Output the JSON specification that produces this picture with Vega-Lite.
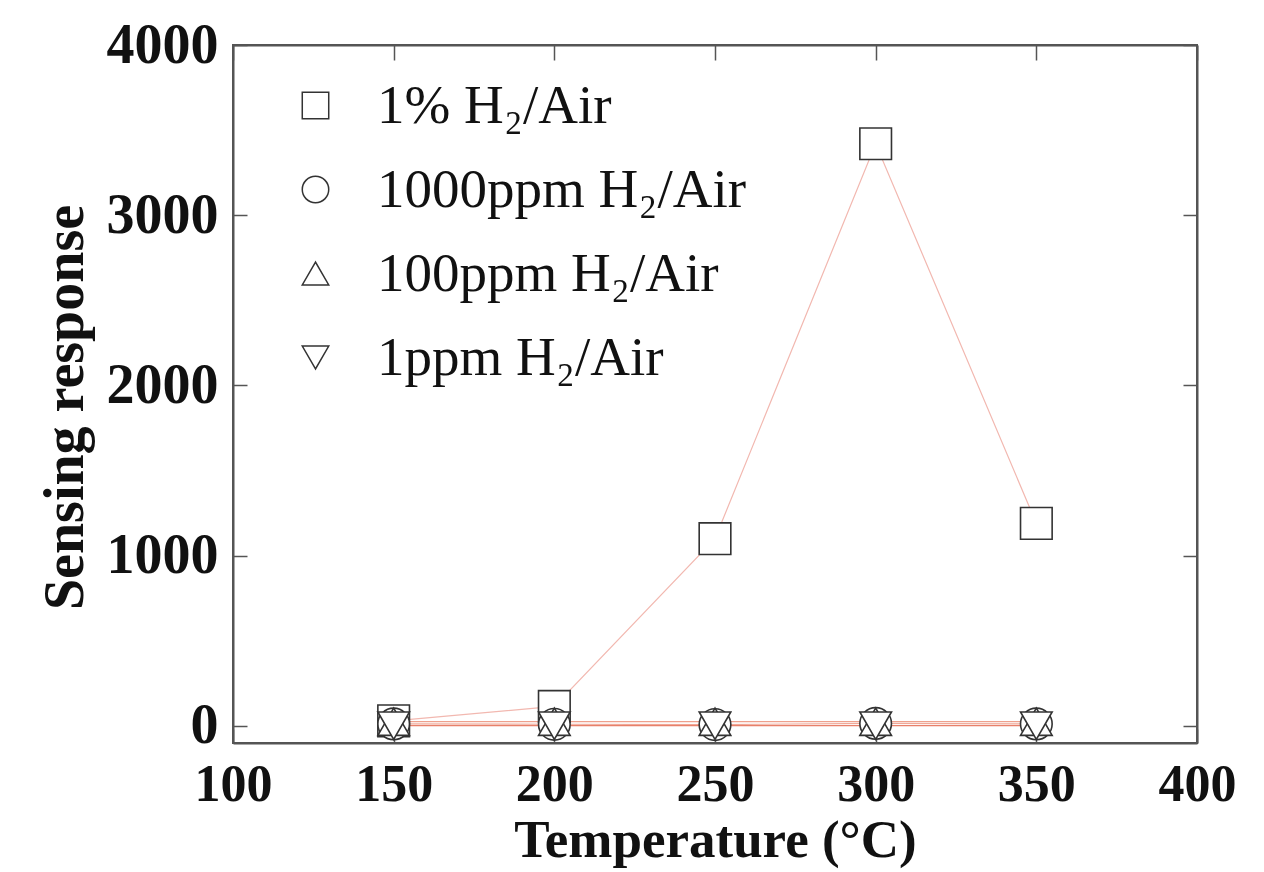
{
  "$schema": "https://vega.github.io/schema/vega-lite/v6.json",
  "width": 964,
  "height": 698,
  "autosize": {"type": "none"},
  "padding": {"left": 233, "top": 45, "right": 67, "bottom": 129},
  "background": "white",
  "config": {
    "view": {"stroke": "#555555", "strokeWidth": 2},
    "font": "Liberation Serif"
  },
  "data": {
    "values": [
      {"series": "1% H₂/Air", "temp": 150, "response": 30},
      {"series": "1% H₂/Air", "temp": 200, "response": 115},
      {"series": "1% H₂/Air", "temp": 250, "response": 1100},
      {"series": "1% H₂/Air", "temp": 300, "response": 3420},
      {"series": "1% H₂/Air", "temp": 350, "response": 1190},
      {"series": "1000ppm H₂/Air", "temp": 150, "response": 12},
      {"series": "1000ppm H₂/Air", "temp": 200, "response": 10},
      {"series": "1000ppm H₂/Air", "temp": 250, "response": 8},
      {"series": "1000ppm H₂/Air", "temp": 300, "response": 15},
      {"series": "1000ppm H₂/Air", "temp": 350, "response": 12},
      {"series": "100ppm H₂/Air", "temp": 150, "response": 25},
      {"series": "100ppm H₂/Air", "temp": 200, "response": 25},
      {"series": "100ppm H₂/Air", "temp": 250, "response": 25},
      {"series": "100ppm H₂/Air", "temp": 300, "response": 25},
      {"series": "100ppm H₂/Air", "temp": 350, "response": 25},
      {"series": "1ppm H₂/Air", "temp": 150, "response": 2},
      {"series": "1ppm H₂/Air", "temp": 200, "response": 2},
      {"series": "1ppm H₂/Air", "temp": 250, "response": 2},
      {"series": "1ppm H₂/Air", "temp": 300, "response": 2},
      {"series": "1ppm H₂/Air", "temp": 350, "response": 2}
    ]
  },
  "resolve": {
    "axis": {"x": "independent", "y": "independent"},
    "legend": {"color": "independent", "shape": "independent"}
  },
  "layer": [
    {
      "mark": {"type": "line", "strokeWidth": 1.2},
      "encoding": {
        "x": {
          "field": "temp",
          "type": "quantitative",
          "scale": {"domain": [100, 400], "nice": false, "zero": false},
          "axis": {
            "title": "Temperature (°C)",
            "values": [100, 150, 200, 250, 300, 350, 400],
            "format": "d",
            "grid": false,
            "labelFlush": false,
            "labelOverlap": false,
            "domainColor": "#555555",
            "domainWidth": 2,
            "tickColor": "#555555",
            "tickSize": -14,
            "tickWidth": 1.5,
            "labelPadding": 30,
            "labelFont": "Liberation Serif",
            "labelFontWeight": "bold",
            "labelFontSize": 52,
            "labelColor": "#111111",
            "titleFont": "Liberation Serif",
            "titleFontWeight": "bold",
            "titleFontSize": 53,
            "titleColor": "#111111",
            "titlePadding": 4
          }
        },
        "y": {
          "field": "response",
          "type": "quantitative",
          "scale": {"domain": [-100, 4000], "nice": false, "zero": false},
          "axis": {
            "title": "Sensing response",
            "values": [0, 1000, 2000, 3000, 4000],
            "format": "d",
            "grid": false,
            "labelFlush": false,
            "labelOverlap": false,
            "domainColor": "#555555",
            "domainWidth": 2,
            "tickColor": "#555555",
            "tickSize": -14,
            "tickWidth": 1.5,
            "labelPadding": 29,
            "labelFont": "Liberation Serif",
            "labelFontWeight": "bold",
            "labelFontSize": 56,
            "labelColor": "#111111",
            "titleFont": "Liberation Serif",
            "titleFontWeight": "bold",
            "titleFontSize": 56,
            "titleColor": "#111111",
            "titlePadding": 12,
            "titleY": 362
          }
        },
        "color": {
          "field": "series",
          "type": "nominal",
          "scale": {
            "domain": ["1% H₂/Air", "1000ppm H₂/Air", "100ppm H₂/Air", "1ppm H₂/Air"],
            "range": ["#f2b8b0", "#f0a898", "#eea08c", "#e8806a"]
          },
          "legend": null
        },
        "detail": {"field": "series"}
      }
    },
    {
      "mark": {"type": "point", "filled": true, "fill": "white", "stroke": "#333333", "strokeWidth": 1.6, "size": 1000, "opacity": 1},
      "encoding": {
        "x": {
          "field": "temp",
          "type": "quantitative",
          "axis": {
            "orient": "top",
            "title": null,
            "labels": false,
            "values": [100, 150, 200, 250, 300, 350, 400],
            "grid": false,
            "domainColor": "#555555",
            "domainWidth": 2,
            "tickColor": "#555555",
            "tickSize": -15,
            "tickWidth": 1.5
          }
        },
        "y": {
          "field": "response",
          "type": "quantitative",
          "axis": {
            "orient": "right",
            "title": null,
            "labels": false,
            "values": [0, 1000, 2000, 3000, 4000],
            "grid": false,
            "domainColor": "#555555",
            "domainWidth": 2,
            "tickColor": "#555555",
            "tickSize": -14,
            "tickWidth": 1.5
          }
        },
        "shape": {
          "field": "series",
          "type": "nominal",
          "scale": {
            "domain": ["1% H₂/Air", "1000ppm H₂/Air", "100ppm H₂/Air", "1ppm H₂/Air"],
            "range": ["square", "circle", "triangle-up", "triangle-down"]
          },
          "legend": {
            "title": null,
            "orient": "none",
            "legendX": 55,
            "legendY": 33,
            "symbolSize": 700,
            "symbolOffset": 0,
            "labelFont": "Liberation Serif",
            "labelFontSize": 55,
            "labelColor": "#111111",
            "labelOffset": 34,
            "rowPadding": 28,
            "labelLimit": 600,
            "encode": {
              "symbols": {
                "update": {
                  "fill": {"value": "white"},
                  "stroke": {"value": "#333333"},
                  "strokeWidth": {"value": 1.6},
                  "opacity": {"value": 1}
                }
              }
            }
          }
        }
      }
    }
  ]
}
